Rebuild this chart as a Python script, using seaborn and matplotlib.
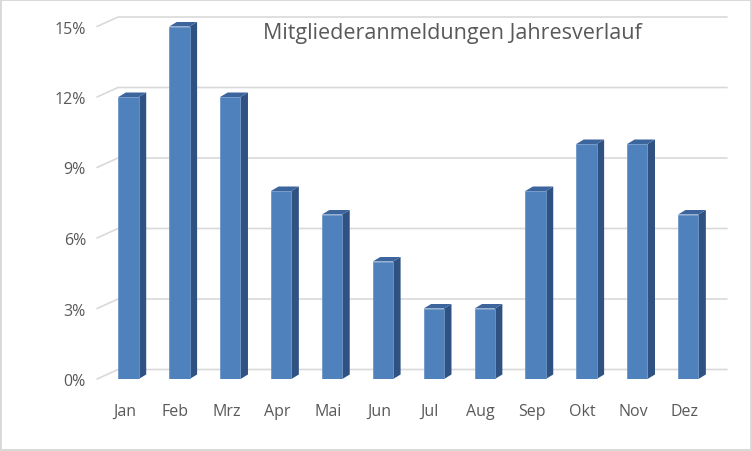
import numpy as np
import pandas as pd
import matplotlib
matplotlib.use("Agg")
import matplotlib.pyplot as plt
import matplotlib.transforms as mtransforms
from matplotlib.patches import Polygon
from matplotlib.lines import Line2D
import seaborn as sns

# data
months = ["Jan", "Feb", "Mrz", "Apr", "Mai", "Jun", "Jul", "Aug", "Sep", "Okt", "Nov", "Dez"]
share = [12, 15, 12, 8, 7, 5, 3, 3, 8, 10, 10, 7]
yticks = [0, 3, 6, 9, 12, 15]
title = "Mitgliederanmeldungen Jahresverlauf"

df = pd.DataFrame({"Monat": months, "Anteil": share})

sns.set_style("white")
plt.rcParams["font.family"] = ["Open Sans", "DejaVu Sans"]

front = "#4f81bd"
side = "#2f5283"
top = "#3c659e"
grid_col = "#d9d9d9"
txt = "#595959"

fig = plt.figure(figsize=(7.52, 4.52), dpi=100)
fig.patch.set_edgecolor("#d9d9d9")
fig.patch.set_linewidth(1.5)
ax = fig.add_axes([97 / 752, 72 / 452, 609 / 752, 352.5 / 452])

sns.barplot(data=df, x="Monat", y="Anteil", color=front, saturation=1,
            width=0.4, linewidth=0.6, edgecolor="#6d96c8", ax=ax, zorder=3)
ax.set_xlim(-0.62, 11.35)
ax.set_ylim(0, 15)
ax.set_yticks(yticks)
ax.set_yticklabels([f"{v}%" for v in yticks])
ax.set_xlabel("")
ax.set_ylabel("")
for s in ax.spines.values():
    s.set_visible(False)
ax.tick_params(length=0, labelsize=11.5, labelcolor=txt)
ax.tick_params(axis="y", pad=8)
ax.tick_params(axis="x", pad=17)
off = mtransforms.ScaledTranslation(-4 / 100, 0, fig.dpi_scale_trans)
for lab in ax.get_xticklabels():
    lab.set_transform(lab.get_transform() + off)

fig.canvas.draw()
ident = mtransforms.IdentityTransform()
tr = ax.transData

# back wall gridlines with the left floor/wall diagonal
gdx, gdy = 21, 9.5
x0 = tr.transform((-0.62, 0))[0]
x1 = tr.transform((11.35, 0))[0]
for v in yticks:
    yd = tr.transform((0, v))[1]
    ax.add_line(Line2D([x0, x0 + gdx, x1 + gdx], [yd, yd + gdy, yd + gdy],
                       transform=ident, color=grid_col, lw=1.2, zorder=1,
                       clip_on=False))

# 3d faces of the bars
bdx, bdy = 7.5, 4.5
for p in ax.patches:
    xa, xb = p.get_x(), p.get_x() + p.get_width()
    h = p.get_height()
    (l, b), (r, t) = tr.transform([(xa, 0), (xb, h)])
    ax.add_patch(Polygon([(r, b), (r + bdx, b + bdy), (r + bdx, t + bdy), (r, t)],
                         closed=True, transform=ident, facecolor=side,
                         edgecolor="none", zorder=2, clip_on=False))
    ax.add_patch(Polygon([(l, t), (l + bdx, t + bdy), (r + bdx, t + bdy), (r, t)],
                         closed=True, transform=ident, facecolor=top,
                         edgecolor="none", zorder=2, clip_on=False))

ax.text(452 / 752, 419 / 452, title, transform=fig.transFigure, ha="center",
        va="center", fontsize=15.5, color=txt)

fig.savefig("out.png", dpi=100)
